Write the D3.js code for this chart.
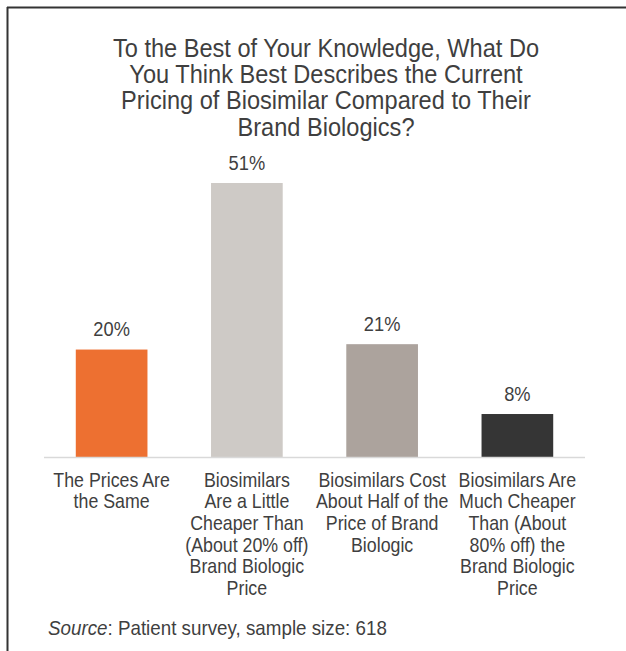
<!DOCTYPE html>
<html>
<head>
<meta charset="utf-8">
<script src="https://cdn.jsdelivr.net/npm/d3@7"></script>
<style>
  html, body { margin: 0; padding: 0; background: #fff; }
  svg { display: block; }
  text { font-family: "Liberation Sans", Arial, sans-serif; fill: #3f3f3f; }
</style>
</head>
<body>
<script>
// Survey answers and shares
const categories = [
  "The Prices Are the Same",
  "Biosimilars Are a Little Cheaper Than (About 20% off) Brand Biologic Price",
  "Biosimilars Cost About Half of the Price of Brand Biologic",
  "Biosimilars Are Much Cheaper Than (About 80% off) the Brand Biologic Price"
];
const categoryLines = [
  ["The Prices Are", "the Same"],
  ["Biosimilars", "Are a Little", "Cheaper Than", "(About 20% off)", "Brand Biologic", "Price"],
  ["Biosimilars Cost", "About Half of the", "Price of Brand", "Biologic"],
  ["Biosimilars Are", "Much Cheaper", "Than (About", "80% off) the", "Brand Biologic", "Price"]
];
const values = [20, 51, 21, 8];
const barColors = ["#ED7031", "#CECAC6", "#ACA39D", "#353535"];
const titleLines = [
  "To the Best of Your Knowledge, What Do",
  "You Think Best Describes the Current",
  "Pricing of Biosimilar Compared to Their",
  "Brand Biologics?"
];
const sourceLabel = "Source";
const sourceText = ": Patient survey, sample size: 618";

const W = 626, H = 651;
const TALL = 1.12;       // glyphs are drawn slightly taller than wide
const TITLE_TALL = 1.09; // a little less for the tightly spaced title
const svg = d3.select("body").append("svg").attr("width", W).attr("height", H);

function place(sel, xf, yf) {
  sel.attr("transform", (d, i) => `translate(${xf(d, i)},${yf(d, i)}) scale(1,${TALL})`);
}

// Frame lines on the top and left edges
svg.append("line").attr("x1", 7).attr("x2", W).attr("y1", 7.5).attr("y2", 7.5)
  .attr("stroke", "#333").attr("stroke-width", 2);
svg.append("line").attr("x1", 7.5).attr("x2", 7.5).attr("y1", 7).attr("y2", H)
  .attr("stroke", "#333").attr("stroke-width", 2);

// Title: one text block, one tspan per line
const title = svg.append("text")
  .attr("text-anchor", "middle").style("font-size", "23.6px")
  .attr("transform", `translate(326,56.7) scale(1,${TITLE_TALL})`);
title.selectAll("tspan").data(titleLines).join("tspan")
  .attr("x", 0)
  .attr("dy", (d, i) => i === 0 ? 0 : 26.4 / TITLE_TALL)
  .text(d => d);

const plotLeft = 44, plotRight = 585, baseY = 457;
const x = d3.scaleBand().domain(categories).range([plotLeft, plotRight]).paddingInner(0.47).paddingOuter(0.235);
const y = d3.scaleLinear().domain([0, 51]).range([baseY, 183]);

// Bars
svg.append("g").selectAll("rect").data(values).join("rect")
  .attr("x", (d, i) => x(categories[i]))
  .attr("y", d => y(d))
  .attr("width", x.bandwidth())
  .attr("height", d => baseY - y(d))
  .attr("fill", (d, i) => barColors[i]);

// Baseline
svg.append("line").attr("x1", plotLeft).attr("x2", plotRight)
  .attr("y1", baseY + 0.5).attr("y2", baseY + 0.5)
  .attr("stroke", "#D9D9D9").attr("stroke-width", 1.5);

// Value labels
const vals = svg.append("g").selectAll("text").data(values).join("text")
  .attr("text-anchor", "middle").style("font-size", "18.3px")
  .text(d => d + "%");
place(vals, (d, i) => x(categories[i]) + x.bandwidth() / 2, d => y(d) - 13.3);

// Category labels
const catG = svg.append("g").selectAll("text").data(categoryLines).join("text")
  .attr("text-anchor", "middle").style("font-size", "17.8px");
place(catG, (d, i) => x(categories[i]) + x.bandwidth() / 2, () => 486.7);
catG.selectAll("tspan").data(d => d).join("tspan")
  .attr("x", 0)
  .attr("dy", (d, i) => i === 0 ? 0 : 21.7 / TALL)
  .text(d => d);

// Source note
const src = svg.append("text").style("font-size", "18.8px")
  .attr("transform", `translate(48,635) scale(1,${TALL})`);
src.append("tspan").style("font-style", "italic").text(sourceLabel);
src.append("tspan").text(sourceText);
</script>
</body>
</html>
